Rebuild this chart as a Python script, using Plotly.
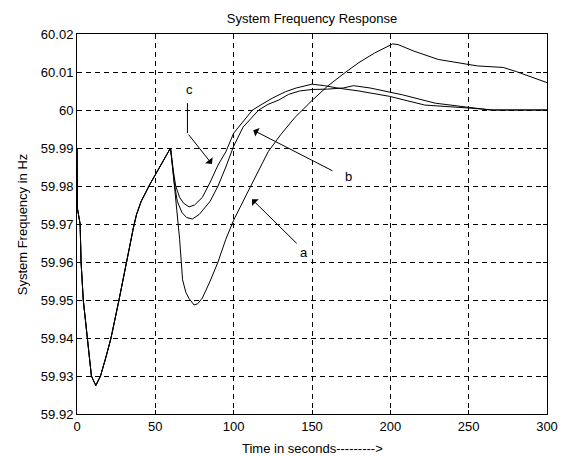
import plotly.graph_objects as go

# ---- data ----
# common part of all three responses (0-60 s)
t_common = [0, 0.3, 2, 2.6, 4, 6.7, 9.2, 12, 15, 18.5, 21.7, 26.8, 31.6, 34, 36, 38, 41, 46.6, 50, 55, 59.7]
f_common = [59.99, 59.974, 59.970, 59.960, 59.950, 59.940, 59.930, 59.9275, 59.930, 59.935,
            59.940, 59.950, 59.960, 59.9655, 59.9690, 59.9725, 59.976, 59.9805, 59.983, 59.9868, 59.990]

# curve a (after 60 s)
t_a = [61.5, 63.5, 65.5, 67.4, 69.5, 71.5, 74.7, 77, 80, 85, 90, 95, 100, 108, 115, 122, 130, 139,
       150, 160, 171, 180, 190, 201.5, 205, 215, 230.6, 245, 255.5, 272, 280.5, 300]
f_a = [59.983, 59.975, 59.966, 59.9553, 59.952, 59.9504, 59.9487, 59.949, 59.9505, 59.955, 59.960,
       59.966, 59.971, 59.9776, 59.9835, 59.989, 59.9935, 59.998, 60.0025, 60.0063, 60.0098, 60.0125,
       60.015, 60.0174, 60.0172, 60.0155, 60.0133, 60.0123, 60.0116, 60.0112, 60.0101, 60.0072]

# curve b (after 60 s)
t_b = [62, 64, 67, 70, 73.6, 78, 85, 90, 95, 100, 106, 116, 122, 128.7, 135, 142, 150, 160, 170,
       176.5, 187, 207.7, 228.6, 249, 263.8, 300]
f_b = [59.981, 59.976, 59.973, 59.9717, 59.9713, 59.9725, 59.976, 59.980, 59.985, 59.9905, 59.9955,
       60.0, 60.0015, 60.0026, 60.0041, 60.005, 60.0054, 60.0055, 60.0058, 60.0064, 60.0058, 60.004,
       60.0018, 60.0007, 60.0, 60.0]

# curve c (after 60 s)
t_c = [61.5, 63, 65.5, 68, 71.5, 75, 80, 85, 90, 95, 100, 106, 112, 118, 124.6, 133, 140, 150, 158,
       166, 180, 199.4, 222, 254, 266, 300]
f_c = [59.984, 59.980, 59.977, 59.9755, 59.9745, 59.975, 59.977, 59.981, 59.9855, 59.989, 59.9939,
       59.997, 60.0, 60.0015, 60.0031, 60.0048, 60.0058, 60.0068, 60.0064, 60.0058, 60.0050, 60.0036,
       60.0013, 60.0004, 60.0, 60.0]

x_ticks = [0, 50, 100, 150, 200, 250, 300]
y_ticks = [59.92, 59.93, 59.94, 59.95, 59.96, 59.97, 59.98, 59.99, 60.0, 60.01, 60.02]
y_tick_text = ["59.92", "59.93", "59.94", "59.95", "59.96", "59.97", "59.98", "59.99", "60", "60.01", "60.02"]

FONT = "Liberation Sans, Arial, sans-serif"

fig = go.Figure()
for tt, ff, name in [(t_a, f_a, "a"), (t_b, f_b, "b"), (t_c, f_c, "c")]:
    fig.add_trace(go.Scatter(x=t_common + tt, y=f_common + ff, mode="lines", name=name,
                             line=dict(color="black", width=1), showlegend=False))

axis_common = dict(showline=True, linecolor="black", linewidth=1, mirror="ticks",
                   showgrid=True, gridcolor="black", gridwidth=1, griddash="5px,4px",
                   ticks="inside", ticklen=4, tickcolor="black", zeroline=False,
                   tickfont=dict(family=FONT, size=13, color="black"))

fig.update_xaxes(range=[0, 300], tickvals=x_ticks, ticktext=[str(v) for v in x_ticks], **axis_common)
fig.update_yaxes(range=[59.92, 60.02], tickvals=y_ticks, ticktext=y_tick_text, **axis_common)

fig.update_layout(
    width=569, height=456,
    margin=dict(l=77, r=11, t=34, b=42),
    paper_bgcolor="white", plot_bgcolor="white",
    title=dict(text="System Frequency Response", x=0.5, xref="paper", y=1 - 18 / 456,
               yref="container", xanchor="center", yanchor="middle",
               font=dict(family=FONT, size=13, color="black")),
)

ann_font = dict(family=FONT, size=13, color="black")
# axis titles
fig.add_annotation(text="Time in seconds--------->", xref="paper", yref="paper", x=0.5,
                   y=-(448 - 414) / 380, showarrow=False, xanchor="center", yanchor="middle", font=ann_font)
fig.add_annotation(text="System Frequency in Hz", xref="paper", yref="paper", x=(21 - 77) / 481,
                   y=0.5, textangle=-90, showarrow=False, xanchor="center", yanchor="middle", font=ann_font)

# curve labels
fig.add_annotation(text="a", x=144.7, y=59.9626, showarrow=False, font=ann_font)
fig.add_annotation(text="b", x=173.4, y=59.9826, showarrow=False, font=ann_font)
fig.add_annotation(text="c", x=71.5, y=60.0053, showarrow=False, font=ann_font)

# arrows
arrow_style = dict(showarrow=True, arrowhead=1, arrowsize=1.6, arrowwidth=1, arrowcolor="black",
                   axref="x", ayref="y", text="", standoff=0, startstandoff=0)
fig.add_annotation(x=111.7, y=59.9765, ax=141.2, ay=59.9645, **arrow_style)
fig.add_annotation(x=112.5, y=59.9947, ax=164, ay=59.9838, **arrow_style)
fig.add_annotation(x=86.1, y=59.9858, ax=70.5, ay=59.9939, **arrow_style)
fig.add_shape(type="line", x0=70.5, x1=70.5, y0=60.0018, y1=59.9939, line=dict(color="black", width=1))

fig.write_html("out.html")
